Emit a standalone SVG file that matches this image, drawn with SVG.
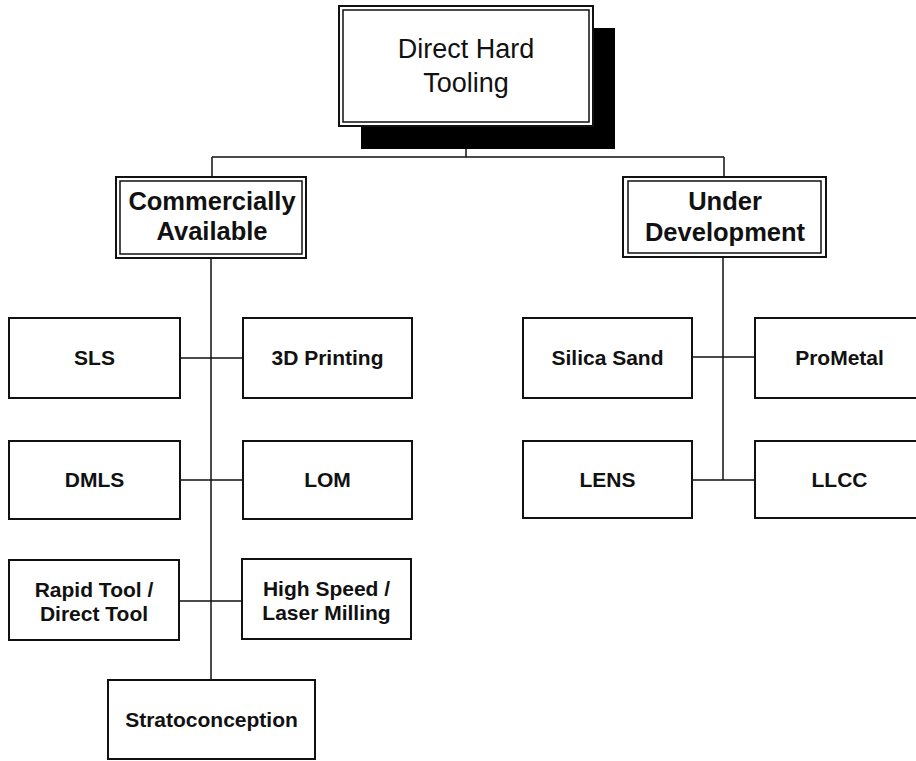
<svg xmlns="http://www.w3.org/2000/svg" width="916" height="761" viewBox="0 0 916 761">
<style>
.box{fill:#ffffff;stroke:#111;stroke-width:2}
.inner{fill:none;stroke:#111;stroke-width:1.5}
.conn{stroke:#111;stroke-width:1.5;fill:none}
.t{font-family:"Liberation Sans",Arial,sans-serif;font-size:21px;font-weight:bold;fill:#111;text-anchor:middle}
.tl{font-family:"Liberation Sans",Arial,sans-serif;font-size:25.5px;font-weight:bold;fill:#111;text-anchor:middle}
.tt{font-family:"Liberation Sans",Arial,sans-serif;font-size:27px;fill:#111;text-anchor:middle}
</style>
<rect width="916" height="761" fill="#ffffff"/>
<g id="connectors">
<path class="conn" d="M466,149 V157 M212,157 H724 M212,157 V177 M724,157 V177"/>
<path class="conn" d="M211,258 V680 M180,358 H243 M180,480 H243 M179,601 H242"/>
<path class="conn" d="M723,257 V480 M692,357 H755 M692,480 H755"/>
</g>
<g id="direct-hard-tooling">
<rect x="361" y="28" width="254" height="121" fill="#000"/>
<rect class="box" x="339" y="6" width="254" height="120"/>
<rect class="inner" x="343" y="10" width="246" height="112"/>
<text class="tt" x="466" y="58">Direct Hard</text>
<text class="tt" x="466" y="92">Tooling</text>
</g>
<g id="commercially-available">
<rect class="box" x="116" y="177" width="190" height="81"/>
<rect class="inner" x="120" y="181" width="182" height="73"/>
<text class="tl" x="212" y="210">Commercially</text>
<text class="tl" x="212" y="240">Available</text>
</g>
<g id="under-development">
<rect class="box" x="623" y="177" width="203" height="80"/>
<rect class="inner" x="628" y="181" width="193" height="72"/>
<text class="tl" x="725" y="210">Under</text>
<text class="tl" x="725" y="241">Development</text>
</g>
<g id="sls"><rect class="box" x="9" y="318" width="171" height="80"/><text class="t" x="94.5" y="365">SLS</text></g>
<g id="3d-printing"><rect class="box" x="243" y="318" width="169" height="80"/><text class="t" x="327.5" y="365">3D Printing</text></g>
<g id="dmls"><rect class="box" x="9" y="441" width="171" height="78"/><text class="t" x="94.5" y="487">DMLS</text></g>
<g id="lom"><rect class="box" x="243" y="441" width="169" height="78"/><text class="t" x="327.5" y="487">LOM</text></g>
<g id="rapid-tool"><rect class="box" x="9" y="560" width="170" height="80"/><text class="t" x="94" y="597">Rapid Tool /</text><text class="t" x="94" y="621">Direct Tool</text></g>
<g id="high-speed"><rect class="box" x="242" y="559" width="169" height="80"/><text class="t" x="326.5" y="596">High Speed /</text><text class="t" x="326.5" y="620">Laser Milling</text></g>
<g id="stratoconception"><rect class="box" x="108" y="680" width="207" height="79"/><text class="t" x="211.5" y="727">Stratoconception</text></g>
<g id="silica-sand"><rect class="box" x="523" y="318" width="169" height="80"/><text class="t" x="607.5" y="365">Silica Sand</text></g>
<g id="prometal"><rect class="box" x="755" y="318" width="169" height="80"/><text class="t" x="839.5" y="365">ProMetal</text></g>
<g id="lens"><rect class="box" x="523" y="441" width="169" height="77"/><text class="t" x="607.5" y="487">LENS</text></g>
<g id="llcc"><rect class="box" x="755" y="441" width="169" height="77"/><text class="t" x="839.5" y="487">LLCC</text></g>
</svg>
